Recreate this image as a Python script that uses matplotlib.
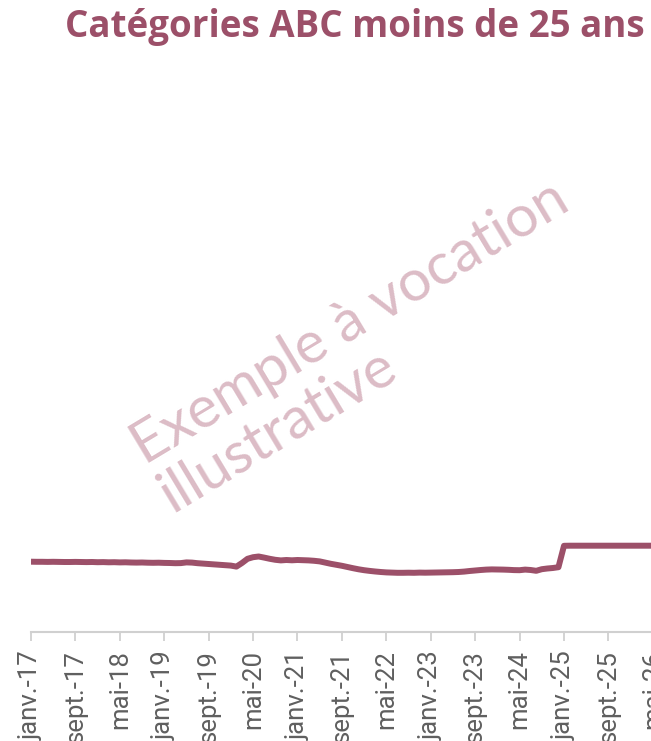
import matplotlib
matplotlib.use("Agg")
import matplotlib.pyplot as plt

months_fr = ["janv.", "févr.", "mars", "avr.", "mai", "juin", "juil.", "août", "sept.", "oct.", "nov.", "déc."]
years = list(range(17, 27))

values = [
    70.3, 70.2, 70.2, 70.1, 70.2, 70.1, 70.0, 70.0, 70.1, 70.0, 69.9, 70.0,
    69.8, 69.9, 69.7, 69.8, 69.6, 69.7, 69.5, 69.4, 69.5, 69.3, 69.2, 69.3,
    69.1, 69.0, 68.8, 68.9, 69.6, 69.4, 68.8, 68.4, 68.0, 67.6, 67.2, 66.8,
    66.4, 65.4, 69.0, 73.2, 74.8, 75.5, 74.4, 73.2, 72.2, 71.6, 72.0, 71.7,
    72.0, 71.8, 71.6, 71.2, 70.6, 69.4, 68.2, 67.2, 66.2, 65.0, 63.8, 62.7,
    61.8, 61.1, 60.5, 60.0, 59.6, 59.4, 59.2, 59.2, 59.3, 59.2, 59.4, 59.3,
    59.4, 59.5, 59.6, 59.7, 59.8, 60.0, 60.4, 61.0, 61.5, 62.0, 62.4, 62.6,
    62.5, 62.4, 62.2, 61.9, 61.8, 62.4, 62.0, 61.2, 62.8, 63.5, 64.0, 64.8,
    86.2, 86.3, 86.3, 86.3, 86.3, 86.3, 86.3, 86.3, 86.3, 86.3, 86.3, 86.3,
    86.3, 86.3, 86.3, 86.3, 86.3, 86.3,
]

month_labels = [f"{m}-{y}" for y in years for m in months_fr]
tick_step = 8
title = "Catégories ABC moins de 25 ans"
watermark = "Exemple à vocation\nillustrative"

color_main = "#9c5069"
color_wm = "#dcbcc6"

W, H = 651, 741
fig = plt.figure(figsize=(W / 100, H / 100), dpi=100)
px_per_month = 5.552
n = len(values)
xmax = 113
ax = fig.add_axes([31 / W, (H - 632) / H, xmax * px_per_month / W, 600 / H])

x = list(range(n))
ax.plot(x, values, color=color_main, lw=4.3, solid_joinstyle="round", solid_capstyle="butt")
ax.set_xlim(0, xmax)
ax.set_ylim(0, 600)

ticks = list(range(0, xmax + 1, tick_step))
ax.set_xticks(ticks)
ax.set_xticklabels([month_labels[t] for t in ticks], rotation=90, va="top", ha="center",
                   fontsize=18.5, color="#5f5f5f", family=["Roboto", "DejaVu Sans"])
ax.tick_params(axis="x", length=6.5, width=1.2, color="#cccccc", pad=6.5)
ax.set_yticks([])
for s in ["left", "right", "top"]:
    ax.spines[s].set_visible(False)
ax.spines["bottom"].set_color("#d0d0d0")
ax.spines["bottom"].set_linewidth(1.5)

fig.text(645 / W, 1 - 8 / H, title, ha="right", va="top", fontsize=26.5,
         fontweight="bold", color=color_main, family=["Open Sans", "DejaVu Sans"])

fig.text(364 / W, 1 - 347 / H, watermark, ha="center", va="center", rotation=31,
         multialignment="left", fontsize=42, fontweight="normal", color=color_wm,
         family=["Lato", "DejaVu Sans"], linespacing=1.05)

fig.savefig("out.png", dpi=100)
